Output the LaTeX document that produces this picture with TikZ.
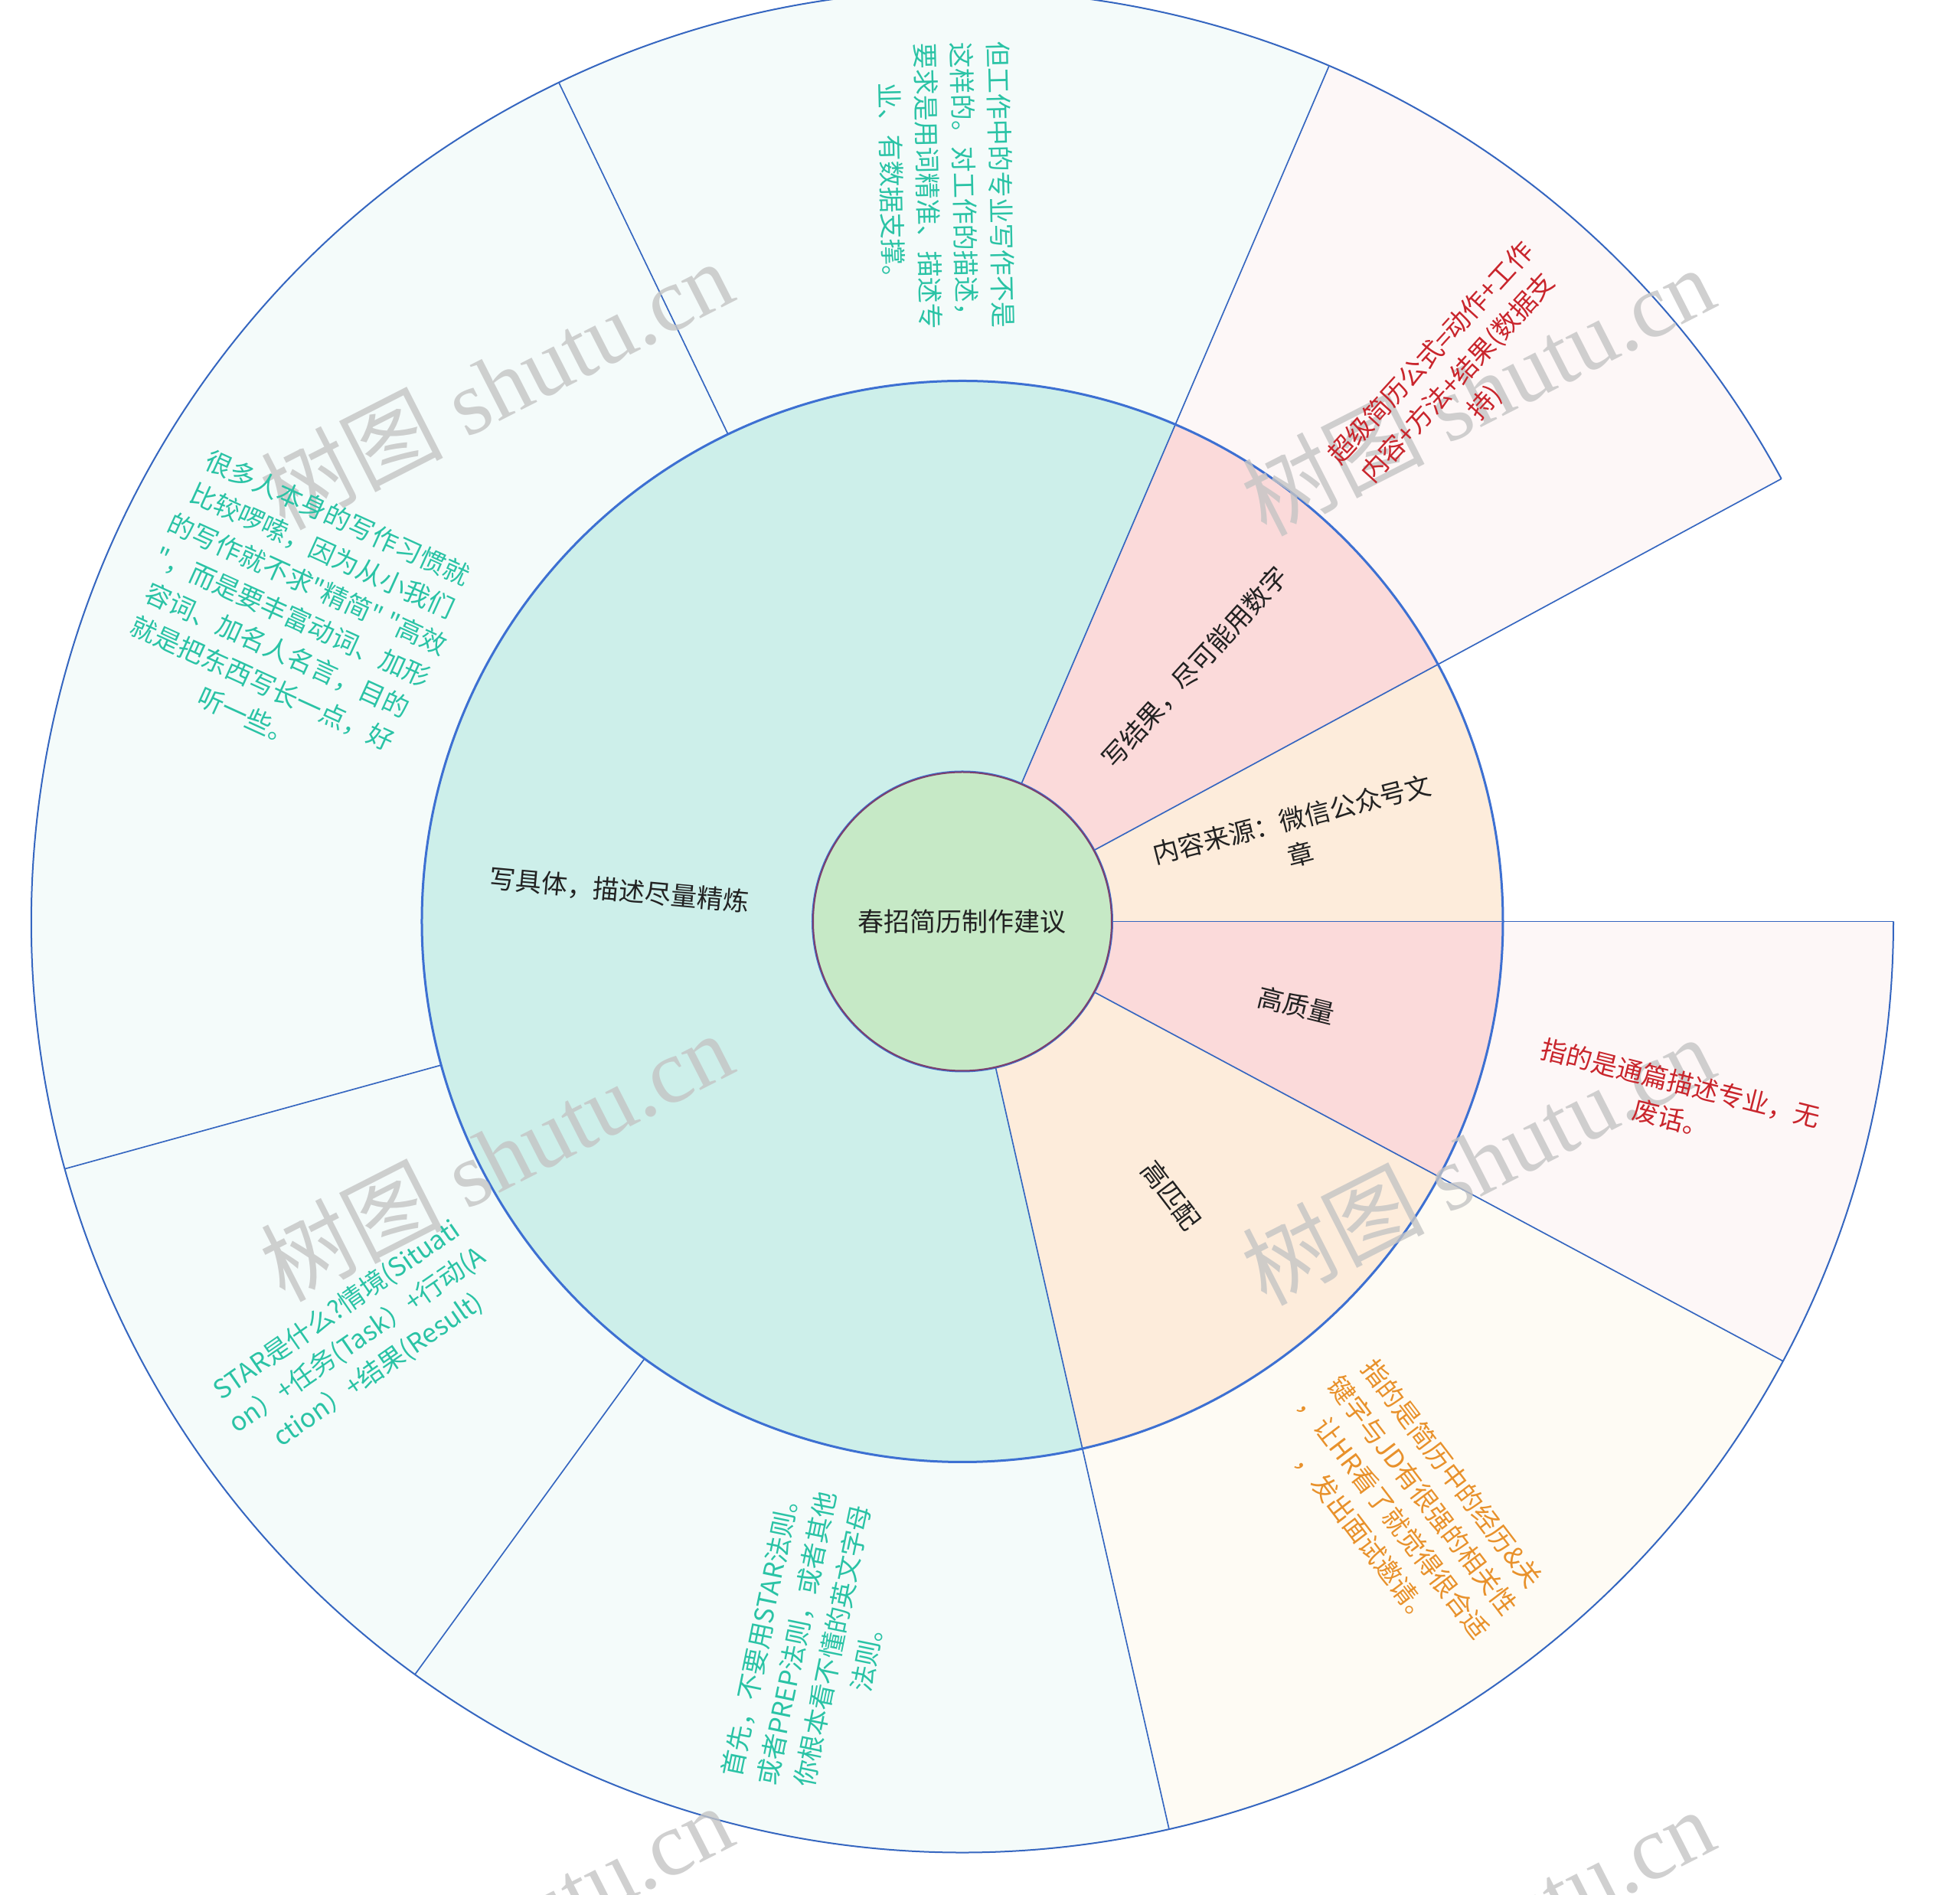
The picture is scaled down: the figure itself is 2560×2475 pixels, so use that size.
\documentclass[tikz,border=0pt]{standalone}
\usepackage{fontspec}
\setmainfont{Noto Sans CJK SC}[Ligatures=TeXOff]
\newfontfamily\wmserif{Liberation Serif}
\newfontfamily\wmcjk{Noto Sans CJK SC}
\definecolor{lineblue}{HTML}{3566C0}
\definecolor{ringblue}{HTML}{3D70D2}
\definecolor{midteal}{HTML}{CDEFEA}
\definecolor{midpink}{HTML}{FBDADA}
\definecolor{midpeach}{HTML}{FDECDB}
\definecolor{outteal}{HTML}{F4FBFA}
\definecolor{outpink}{HTML}{FDF7F7}
\definecolor{outpeach}{HTML}{FEFBF4}
\definecolor{centergreen}{HTML}{C6E9C6}
\definecolor{centerborder}{HTML}{7B3F6E}
\definecolor{tealtxt}{HTML}{2AC3A5}
\definecolor{redtxt}{HTML}{C9252C}
\definecolor{orangetxt}{HTML}{E8912B}
\definecolor{darktxt}{HTML}{222222}
\definecolor{wmgray}{HTML}{C4C4C4}
\newcommand\annsec[5]{\fill[#1] (#2:#4) -- (#2:#5) arc[start angle=#2, end angle=#3, radius=#5] -- (#3:#4) arc[start angle=#3, end angle=#2, radius=#4] -- cycle;}
\tikzset{
  lbl/.style={font=\fontsize{10.2}{14.25}\selectfont, align=center, inner sep=0pt, text=darktxt},
  tealnote/.style={lbl, text=tealtxt},
  rednote/.style={lbl, text=redtxt},
  orangenote/.style={lbl, text=orangetxt},
  radial/.style={draw=lineblue, line width=0.5pt},
  outerarc/.style={draw=lineblue, line width=0.6pt},
  midring/.style={draw=ringblue, line width=0.9pt},
  wmark/.style={text=wmgray, opacity=0.8, inner sep=0pt, rotate=27, font=\fontsize{35.7}{40}\selectfont}
}
\begin{document}
\begin{tikzpicture}[x=0.3pt, y=0.3pt]
\path[use as bounding box] (-1257,-1271.5) rectangle (1303,1203.5);
\clip (-1257,-1271.5) rectangle (1303,1203.5);
% outer ring
\annsec{outteal}{66.8}{115.69}{706}{1216}
\annsec{outteal}{115.69}{195.41}{706}{1216}
\annsec{outteal}{195.41}{233.98}{706}{1216}
\annsec{outteal}{233.98}{282.83}{706}{1216}
\annsec{outpink}{28.39}{66.8}{706}{1216}
\annsec{outpink}{-28.18}{0}{706}{1216}
\annsec{outpeach}{-77.17}{-28.18}{706}{1216}
% middle ring
\annsec{midteal}{66.8}{282.83}{190}{706}
\annsec{midpink}{28.39}{66.8}{190}{706}
\annsec{midpeach}{0}{28.39}{190}{706}
\annsec{midpink}{-28.18}{0}{190}{706}
\annsec{midpeach}{-77.17}{-28.18}{190}{706}
% outer boundary arcs
\draw[outerarc] (28.39:1216) arc[start angle=28.39, end angle=282.83, radius=1216];
\draw[outerarc] (-77.17:1216) arc[start angle=-77.17, end angle=0, radius=1216];
% radial lines
\foreach \a in {66.8,28.39,0,-28.18,-77.17,115.69,195.41,233.98}
  \draw[radial] (\a:706) -- (\a:1216);
\foreach \a in {66.8,28.39,0,-28.18,-77.17}
  \draw[radial] (\a:195) -- (\a:706);
\draw[midring] (0,0) circle[radius=706];
\draw[midring] (0,0) circle[radius=195.5];
% centre
\node[lbl, circle, fill=centergreen, draw=centerborder, line width=0.6pt, minimum size=117pt] (root) at (0,0) {春招简历制作建议};
% watermarks (under the texts)
\foreach \wx/\wy [count=\i] in {-609/701.5, 673/693.5, -609/-306.5, 673/-311.5, -609/-1315.5, 673/-1320.5}
  \node[wmark] (wm\i) at (\wx,\wy) {\wmcjk 树图\wmserif{} shutu.cn};
% middle labels
\node[lbl, rotate=47.6] (jieguo) at (47.6:450) {写结果，尽可能用数字};
\node[lbl, rotate=14.2] (laiyuan) at (14.2:450) {内容来源：微信公众号文\\章};
\node[lbl, rotate=-14.1] (zhiliang) at (-14.1:450) {高质量};
\node[lbl, rotate=-52.7] (pipei) at (-52.7:450) {高匹配};
\node[lbl, rotate=-5.2] (juti) at (174.8:450) {写具体，描述尽量精炼};
% outer notes
\node[tealnote, rotate=-88.75] (n1) at (91.25:961) {但工作中的专业写作不是\\这样的。对工作的描述，\\要求是用词精准、描述专\\业、有数据支撑。};
\node[tealnote, rotate=-24.45] (n2) at (155.55:961) {很多人本身的写作习惯就\\比较啰嗦，因为从小我们\\的写作就不求"精简" "高效\\"，而是要丰富动词、加形\\容词、加名人名言，目的\\就是把东西写长一点，好\\听一些。};
\node[tealnote, rotate=34.7] (n3) at (214.7:961) {STAR是什么?情境(Situati\\on）+任务(Task）+行动(A\\ction）+结果(Result)};
\node[tealnote, rotate=78.4] (n4) at (258.4:961) {首先，不要用STAR法则。\\或者PREP法则，或者其他\\你根本看不懂的英文字母\\法则。};
\node[rednote, rotate=47.6] (n5) at (47.6:961) {超级简历公式=动作+工作\\内容+方法+结果(数据支\\持)};
\node[rednote, rotate=-14.1] (n6) at (-14.1:961) {指的是通篇描述专业，无\\废话。};
\node[orangenote, rotate=-52.7] (n7) at (-52.7:961) {指的是简历中的经历\&关\\键字与JD有很强的相关性\\，让HR看了就觉得很合适\\，发出面试邀请。};
\end{tikzpicture}
\end{document}
